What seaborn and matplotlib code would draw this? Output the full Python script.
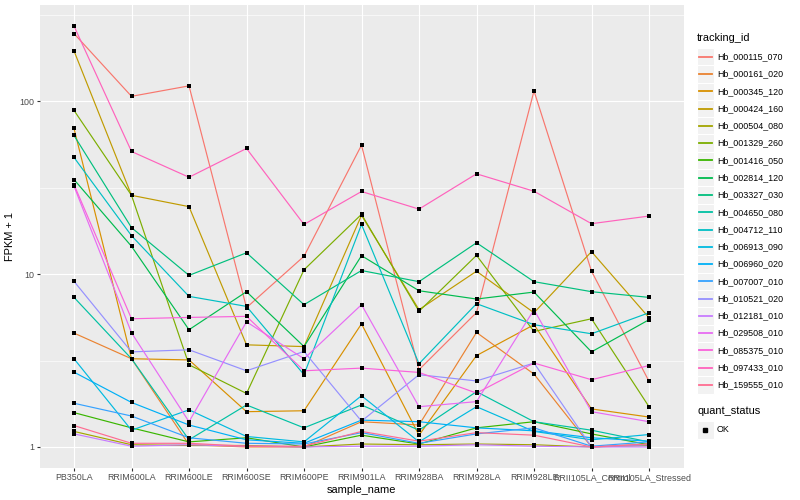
import numpy as np
import pandas as pd
import matplotlib
matplotlib.use("Agg")
import matplotlib.pyplot as plt
from matplotlib.patches import Rectangle
from matplotlib.lines import Line2D
import seaborn as sns

samples = ["PB350LA", "RRIM600LA", "RRIM600LE", "RRIM600SE", "RRIM600PE", "RRIM901LA",
           "RRIM928BA", "RRIM928LA", "RRIM928LE", "RRII105LA_Control", "RRII105LA_Stressed"]

tracking_ids = ["Hb_000115_070", "Hb_000161_020", "Hb_000345_120", "Hb_000424_160", "Hb_000504_080",
                "Hb_001329_260", "Hb_001416_050", "Hb_002814_120", "Hb_003327_030", "Hb_004650_080",
                "Hb_004712_110", "Hb_006913_090", "Hb_006960_020", "Hb_007007_010", "Hb_010521_020",
                "Hb_012181_010", "Hb_029508_010", "Hb_085375_010", "Hb_097433_010", "Hb_159555_010"]

# FPKM + 1 values per gene (order of samples)
hb_000115_070 = [247, 107, 123, 6.4, 12.7, 55.8, 2.8, 6.0, 115, 10.4, 2.4]
hb_000161_020 = [4.56, 3.24, 1.03, 1.0, 1.0, 1.40, 1.34, 4.60, 2.64, 1.0, 1.04]
hb_000345_120 = [69.7, 3.24, 3.19, 1.60, 1.62, 5.16, 1.17, 3.38, 5.10, 1.66, 1.49]
hb_000424_160 = [196, 28.6, 24.6, 3.9, 3.81, 21.9, 6.23, 10.4, 5.98, 13.5, 5.6]
hb_000504_080 = [1.23, 1.03, 1.02, 1.02, 1.0, 1.04, 1.03, 1.04, 1.03, 1.0, 1.02]
hb_001329_260 = [88.7, 28.6, 2.99, 2.04, 10.6, 22.2, 6.1, 12.85, 4.66, 5.52, 1.71]
hb_001416_050 = [1.58, 1.29, 1.07, 1.13, 1.0, 1.17, 1.04, 1.29, 1.40, 1.19, 1.03]
hb_002814_120 = [35.3, 14.5, 4.77, 7.92, 3.81, 12.8, 8.02, 7.18, 7.88, 3.55, 5.45]
hb_003327_030 = [63.5, 18.6, 9.84, 13.3, 6.66, 10.5, 9.05, 15.2, 9.05, 7.92, 7.34]
hb_004650_080 = [7.34, 3.24, 1.10, 1.75, 1.29, 1.75, 1.25, 2.09, 1.40, 1.25, 1.07]
hb_004712_110 = [47.4, 16.7, 7.44, 6.51, 2.62, 19.4, 3.03, 6.75, 5.10, 4.52, 5.98]
hb_006913_090 = [3.24, 1.25, 1.64, 1.15, 1.07, 1.98, 1.07, 1.71, 1.23, 1.10, 1.18]
hb_006960_020 = [2.71, 1.81, 1.34, 1.10, 1.05, 1.43, 1.40, 1.29, 1.24, 1.13, 1.08]
hb_007007_010 = [1.79, 1.51, 1.13, 1.05, 1.04, 1.21, 1.05, 1.19, 1.29, 1.01, 1.07]
hb_010521_020 = [9.09, 3.55, 3.65, 2.76, 3.57, 1.41, 2.62, 2.41, 3.06, 1.0, 1.03]
hb_012181_010 = [1.19, 1.01, 1.03, 1.01, 1.0, 1.01, 1.01, 1.03, 1.01, 1.0, 1.0]
hb_029508_010 = [32.3, 4.58, 1.40, 5.30, 3.24, 6.66, 1.71, 1.83, 6.23, 1.60, 1.40]
hb_085375_010 = [33.0, 5.52, 5.62, 5.70, 2.76, 2.86, 2.7, 2.05, 3.06, 2.45, 2.96]
hb_097433_010 = [273, 51.3, 36.4, 53.4, 19.4, 30.1, 23.8, 38.1, 30.2, 19.6, 21.7]
hb_159555_010 = [1.33, 1.05, 1.05, 1.01, 1.01, 1.23, 1.08, 1.21, 1.17, 1.0, 1.04]

series = [hb_000115_070, hb_000161_020, hb_000345_120, hb_000424_160, hb_000504_080,
          hb_001329_260, hb_001416_050, hb_002814_120, hb_003327_030, hb_004650_080,
          hb_004712_110, hb_006913_090, hb_006960_020, hb_007007_010, hb_010521_020,
          hb_012181_010, hb_029508_010, hb_085375_010, hb_097433_010, hb_159555_010]

colors = ["#F8766D", "#EA8331", "#D89000", "#C09B00", "#A3A500", "#7CAE00", "#39B600", "#00BB4E",
          "#00BF7D", "#00C1A3", "#00BFC4", "#00BAE0", "#00B0F6", "#35A2FF", "#9590FF", "#C77CFF",
          "#E76BF3", "#FA62DB", "#FF62BC", "#FF6C91"]

rows = []
for tid, vals in zip(tracking_ids, series):
    for s, v in zip(samples, vals):
        rows.append({"tracking_id": tid, "sample_name": s, "value": v, "quant_status": "OK"})
df = pd.DataFrame(rows)
df["xpos"] = df["sample_name"].map({s: i for i, s in enumerate(samples)})

W, H = 800, 500
fig = plt.figure(figsize=(8, 5), dpi=100)
pl, pr, pt, pb = 39.5, 683.5, 5, 468
ax = fig.add_axes([pl / W, 1 - pb / H, (pr - pl) / W, (pb - pt) / H])
ax.set_facecolor("#EBEBEB")

palette = dict(zip(tracking_ids, colors))
sns.lineplot(data=df, x="xpos", y="value", hue="tracking_id", hue_order=tracking_ids,
             palette=palette, sort=False, estimator=None, legend=False, linewidth=0.85, ax=ax, zorder=3)
sns.scatterplot(data=df, x="xpos", y="value", color="black", marker="s", s=8.5, linewidth=0,
                legend=False, ax=ax, zorder=4)

ax.set_yscale("log")
allv = np.log10(np.concatenate([np.array(v, dtype=float) for v in series]))
lo, hi = allv.min(), allv.max()
pad = 0.05 * (hi - lo)
ax.set_ylim(10 ** (lo - pad), 10 ** (hi + pad))
ax.set_xlim(-0.6, len(samples) - 1 + 0.6)

ax.set_yticks([1, 10, 100])
ax.set_yticklabels(["1", "10", "100"])
ax.set_yticks([10 ** 0.5, 10 ** 1.5, 10 ** 2.5], minor=True)
ax.set_xticks(range(len(samples)))
ax.set_xticklabels(samples)
ax.tick_params(which="minor", length=0)
ax.tick_params(which="major", length=2.0, width=0.8, color="#333333", labelcolor="#4D4D4D",
               labelsize=6.4, pad=1.5)
for lab in ax.get_xticklabels() + ax.get_yticklabels():
    lab.set_fontfamily("Liberation Sans")

ax.grid(which="major", color="white", linewidth=0.85)
ax.grid(which="minor", axis="y", color="white", linewidth=0.45)
ax.set_axisbelow(True)
for sp in ax.spines.values():
    sp.set_visible(False)

ax.set_xlabel("sample_name", fontsize=7.9, family="Liberation Sans", labelpad=2)
ax.set_ylabel("FPKM + 1", fontsize=7.9, family="Liberation Sans", labelpad=3)

# legend drawn in pixel coordinates
lg = fig.add_axes([0, 0, 1, 1])
lg.set_xlim(0, W)
lg.set_ylim(H, 0)
lg.axis("off")
lg.patch.set_alpha(0)
lg.text(697, 38, "tracking_id", fontsize=7.9, family="Liberation Sans", va="center", ha="left")
y0, dy = 56.7, 17.28
for i, (tid, c) in enumerate(zip(tracking_ids, colors)):
    yc = y0 + i * dy
    lg.add_patch(Rectangle((697, yc - dy / 2), 16.5, dy, facecolor="#F2F2F2", edgecolor="white",
                           linewidth=0.8, zorder=1))
    lg.add_line(Line2D([698.5, 711.5], [yc, yc], color=c, linewidth=1.3, zorder=3))
    lg.text(717, yc, tid, fontsize=6.4, family="Liberation Sans", va="center", ha="left")
lg.text(697, 411.5, "quant_status", fontsize=7.9, family="Liberation Sans", va="center", ha="left")
lg.add_patch(Rectangle((697, 430 - dy / 2), 16.5, dy, facecolor="#F2F2F2", edgecolor="white",
                       linewidth=0.8, zorder=1))
lg.plot([705], [430], marker="s", color="black", markersize=2.8, linestyle="none", zorder=3)
lg.text(717, 430, "OK", fontsize=6.4, family="Liberation Sans", va="center", ha="left")

fig.savefig("out.png", dpi=100, facecolor="white")
